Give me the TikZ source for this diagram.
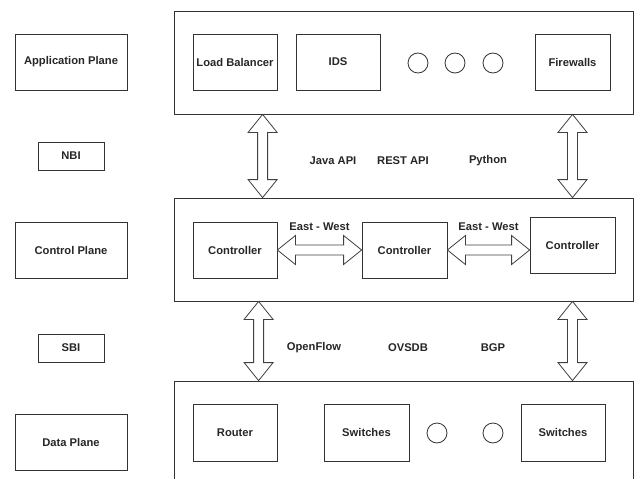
\documentclass[tikz,border=0pt]{standalone}
\usepackage{fontspec}
\setmainfont{Liberation Sans}
\usetikzlibrary{calc}

\begin{document}
\begin{tikzpicture}[x=1pt, y=-1pt,
			planebox/.style={draw=black!80, line width=0.8pt, minimum width=112pt, minimum height=56pt, inner sep=0pt, text=black!85, font=\fontsize{11.2}{13}\selectfont\bfseries},
			ifbox/.style={planebox, minimum width=66pt, minimum height=28pt},
			layerbox/.style={draw=black!80, line width=0.8pt, minimum width=459pt, minimum height=103pt, inner sep=0pt},
			mynode/.style={planebox, minimum width=84pt, minimum height=56pt},
			dot/.style={circle, draw=black!80, line width=0.8pt, minimum size=20pt, inner sep=0pt},
			lbl/.style={inner sep=1pt, text=black!85, font=\fontsize{11.2}{13}\selectfont\bfseries},
			hollow/.style={draw=black!75, line width=0.8pt, fill=white, to path={let \p1=(\tikztostart), \p2=(\tikztotarget), \n1={veclen(\x2-\x1,\y2-\y1)}, \n2={atan2(\y2-\y1,\x2-\x1)} in
				([shift={(\p1)},rotate=\n2]0,0) -- ([shift={(\p1)},rotate=\n2]18,14.5) -- ([shift={(\p1)},rotate=\n2]18,5) -- ([shift={(\p1)},rotate=\n2]\n1-18,5) -- ([shift={(\p1)},rotate=\n2]\n1-18,14.5) -- ([shift={(\p1)},rotate=\n2]\n1,0)
				-- ([shift={(\p1)},rotate=\n2]\n1-18,-14.5) -- ([shift={(\p1)},rotate=\n2]\n1-18,-5) -- ([shift={(\p1)},rotate=\n2]18,-5) -- ([shift={(\p1)},rotate=\n2]18,-14.5) -- cycle}}
		]

		\clip (0,0) rectangle (635,479);

		\node[planebox] (appplane) at (71,62) {Application Plane};
		\node[ifbox] (nbi) at (71,156) {NBI};
		\node[planebox] (ctlplane) at (71,250) {Control Plane};
		\node[ifbox] (sbi) at (71,348) {SBI};
		\node[planebox] (dataplane) at (71,442) {Data Plane};

		\node[layerbox] (applayer) at (403.5,62.5) {};
		\node[layerbox] (ctllayer) at (403.5,249.5) {};
		\node[layerbox, minimum height=120pt] (datalayer) at (403.5,441) {};

		\node[mynode] (lb) at (235,62) {Load Balancer};
		\node[mynode] (ids) at (338,62) {IDS};
		\node[dot] (appdot1) at (418,63) {};
		\node[dot] (appdot2) at (455,63) {};
		\node[dot] (appdot3) at (493,63) {};
		\node[mynode, minimum width=75pt] (fw) at (572.5,62) {Firewalls};

		\node[mynode] (ctrl1) at (235,250) {Controller};
		\node[mynode, minimum width=85pt] (ctrl2) at (404.5,250) {Controller};
		\node[mynode, minimum width=85pt] (ctrl3) at (572.5,245) {Controller};

		\node[mynode, minimum height=57pt] (router) at (235,432.5) {Router};
		\node[mynode, minimum width=85pt, minimum height=57pt] (sw1) at (366.5,432.5) {Switches};
		\node[dot] (datadot1) at (437,433) {};
		\node[dot] (datadot2) at (493,433) {};
		\node[mynode, minimum height=57pt] (sw2) at (563,432.5) {Switches};

		\draw[hollow] ([xshift=89pt]applayer.south west) to ([xshift=89pt]ctllayer.north west);
		\draw[hollow] (applayer.south -| fw) to (ctllayer.north -| fw);
		\draw[hollow] ([xshift=85pt]ctllayer.south west) to ([xshift=85pt]datalayer.north west);
		\draw[hollow] (ctllayer.south -| ctrl3) to (datalayer.north -| ctrl3);

		\draw[hollow] (ctrl1.east) to (ctrl2.west);
		\draw[hollow] (ctrl2.east) to (ctrl2.east -| ctrl3.west);

		\node[lbl] (ew1) at (319.5,227) {East - West};
		\node[lbl] (ew2) at (488.5,227) {East - West};

		\node[lbl] (java) at (333,161) {Java API};
		\node[lbl] (rest) at (403,161) {REST API};
		\node[lbl] (python) at (488,161) {Python};

		\node[lbl] (openflow) at (314,348) {OpenFlow};
		\node[lbl] (ovsdb) at (408,348) {OVSDB};
		\node[lbl] (bgp) at (493,348) {BGP};

	\end{tikzpicture}
\end{document}
